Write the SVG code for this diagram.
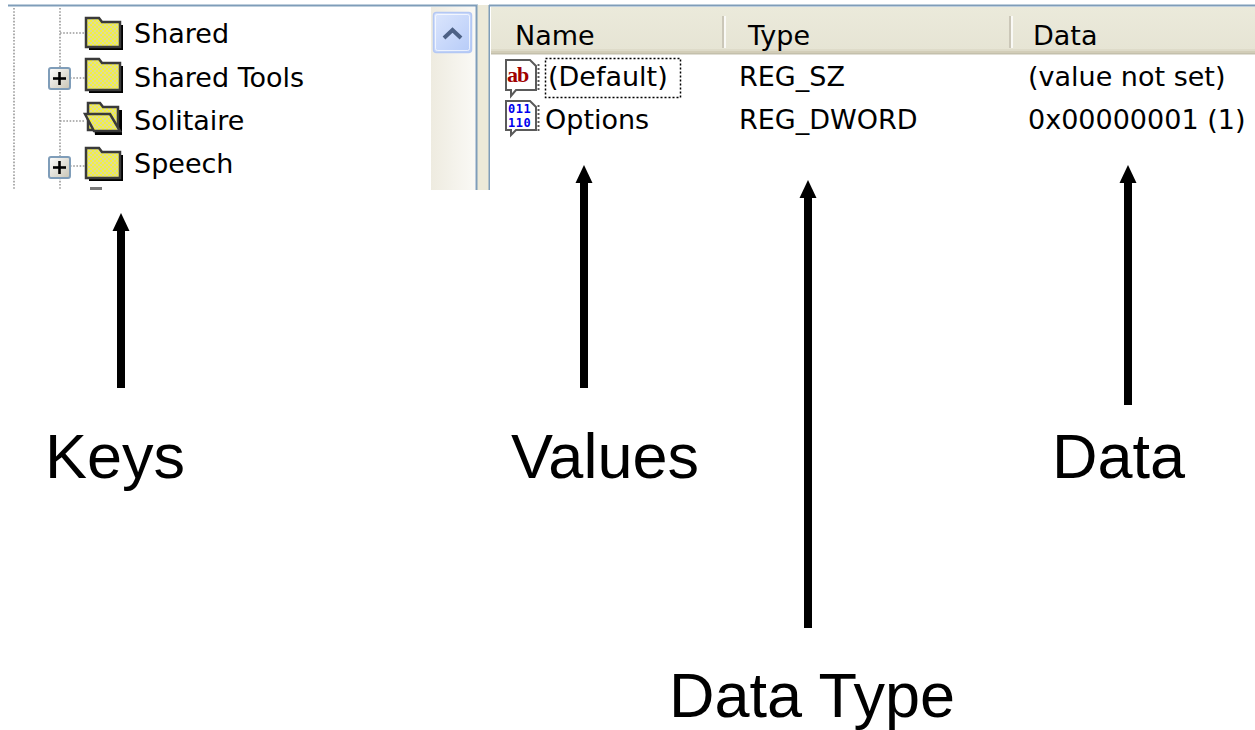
<svg xmlns="http://www.w3.org/2000/svg" width="1255" height="730" viewBox="0 0 1255 730">
  <style>
    .ui { font-family: "DejaVu Sans", Verdana, sans-serif; font-size: 27px; fill: #000; }
    .lbl { font-family: "Liberation Sans", Arial, sans-serif; font-size: 63px; fill: #000; }
    .dot { stroke: #9a9a9a; stroke-width: 1.6; stroke-dasharray: 1.6 1.6; fill: none; }
    .border { stroke: #7f9db9; stroke-width: 2; fill: none; }
    .folder { fill: url(#dither); stroke: #3a3a3a; stroke-width: 2.5; }
    .shadow { fill: #000; }
    .plusbox { fill: url(#plusGrad); stroke: #7f9db9; stroke-width: 2; }
    .plus { stroke: #000; stroke-width: 2.6; }
    .sep { stroke: #cbc7b8; stroke-width: 2; }
    .sepw { stroke: #ffffff; stroke-width: 1.5; }
    .doc { fill: #fff; stroke: #5a5a5a; stroke-width: 2; }
    .bits { font-family: "DejaVu Sans Mono", monospace; font-weight: bold; font-size: 12px; fill: #0000ee; letter-spacing: 0.5px; }
    .arrow { stroke: #000; stroke-width: 8; fill: none; }
  </style>
  <defs>
    <pattern id="dither" width="4" height="4" patternUnits="userSpaceOnUse">
      <rect width="4" height="4" fill="#f4f040"/>
      <rect x="0" y="0" width="2" height="2" fill="#dcdc9c"/>
      <rect x="2" y="2" width="2" height="2" fill="#dcdc9c"/>
    </pattern>
    <linearGradient id="plusGrad" x1="0" y1="0" x2="1" y2="1">
      <stop offset="0" stop-color="#ffffff"/>
      <stop offset="1" stop-color="#c8c4b4"/>
    </linearGradient>
    <linearGradient id="btnGrad" x1="0" y1="0" x2="1" y2="1">
      <stop offset="0" stop-color="#dce6fd"/>
      <stop offset="1" stop-color="#b6cbf8"/>
    </linearGradient>
    <linearGradient id="trackGrad" x1="0" y1="0" x2="1" y2="0">
      <stop offset="0" stop-color="#eeebe0"/>
      <stop offset="1" stop-color="#faf9f5"/>
    </linearGradient>
    <linearGradient id="hdrGrad" x1="0" y1="0" x2="0" y2="1">
      <stop offset="0" stop-color="#ebeadb"/>
      <stop offset="1" stop-color="#e6e4d4"/>
    </linearGradient>
    <marker id="head" viewBox="0 -9 18 18" refX="0" refY="0" markerWidth="18" markerHeight="18" markerUnits="userSpaceOnUse" orient="auto">
      <path d="M0,-8.5 L18,0 L0,8.5 Z" fill="#000"/>
    </marker>
  </defs>

  <rect x="0" y="0" width="1255" height="730" fill="#ffffff"/>

  <!-- Left pane (registry key tree) -->
  <g id="tree-pane">
    <rect x="8" y="6" width="469" height="184" fill="#ffffff"/>
    <line class="border" x1="8" y1="5.5" x2="478" y2="5.5"/>
    <line class="dot" x1="14" y1="8" x2="14" y2="190"/>
    <line class="dot" x1="60" y1="8" x2="60" y2="190"/>
    <line class="dot" x1="60" y1="33" x2="85" y2="33"/>
    <line class="dot" x1="70" y1="78" x2="85" y2="78"/>
    <line class="dot" x1="60" y1="121" x2="85" y2="121"/>
    <line class="dot" x1="70" y1="166" x2="85" y2="166"/>
  </g>

  <g id="key-shared">
    <path class="shadow" d="M89,25 H123 V50 H89 Z"/>
    <path class="folder" d="M86,18 H99 L102,22 H120 V47 H86 Z"/>
    <text class="ui" x="134" y="43">Shared</text>
  </g>

  <g id="key-shared-tools">
    <rect class="plusbox" x="49" y="68" width="21" height="21" rx="2"/>
    <line class="plus" x1="53" y1="78.5" x2="66" y2="78.5"/>
    <line class="plus" x1="59.5" y1="72" x2="59.5" y2="85"/>
    <path class="shadow" d="M89,66 H123 V93 H89 Z"/>
    <path class="folder" d="M86,59 H99 L102,63 H120 V90 H86 Z"/>
    <text class="ui" x="134" y="87">Shared Tools</text>
  </g>

  <g id="key-solitaire">
    <path class="shadow" d="M92,110 H122 V135 H95 Z"/>
    <path class="folder" d="M88,103 H100 L103,107 H118 V130 H88 Z"/>
    <path class="folder" d="M85,114 H110 L120,131 H94 Z"/>
    <text class="ui" x="134" y="130">Solitaire</text>
  </g>

  <g id="key-speech">
    <rect class="plusbox" x="49" y="157" width="21" height="21" rx="2"/>
    <line class="plus" x1="53" y1="167.5" x2="66" y2="167.5"/>
    <line class="plus" x1="59.5" y1="161" x2="59.5" y2="174"/>
    <path class="shadow" d="M89,155 H123 V181 H89 Z"/>
    <path class="folder" d="M86,148 H99 L102,152 H120 V178 H86 Z"/>
    <text class="ui" x="134" y="173">Speech</text>
    <rect x="90" y="187" width="12" height="3" fill="#7a7a7a"/>
  </g>

  <!-- Scrollbar -->
  <g id="scrollbar">
    <rect x="431" y="7" width="44" height="183" fill="url(#trackGrad)"/>
    <rect x="433.5" y="12.5" width="38" height="40" rx="3" fill="url(#btnGrad)" stroke="#b4c8f4" stroke-width="1.5"/>
    <rect x="435.5" y="14.5" width="34" height="36" rx="2" fill="none" stroke="#ffffff" stroke-width="1" opacity="0.7"/>
    <polyline points="444,38 452.5,30 461,38" fill="none" stroke="#4d6185" stroke-width="4"/>
  </g>

  <!-- Splitter -->
  <g id="splitter">
    <rect x="477" y="5" width="12" height="185" fill="#ece9d8"/>
    <line class="border" x1="476.5" y1="5" x2="476.5" y2="190"/>
    <line class="border" x1="489.5" y1="5" x2="489.5" y2="190"/>
  </g>

  <!-- Right pane (values list) -->
  <g id="list-pane">
    <rect x="490" y="6" width="765" height="184" fill="#ffffff"/>
    <line class="border" x1="489" y1="5.5" x2="1255" y2="5.5"/>
    <rect x="491" y="7" width="764" height="44" fill="url(#hdrGrad)"/>
    <rect x="491" y="49" width="764" height="2" fill="#dedbc9"/>
    <rect x="491" y="51" width="764" height="2" fill="#d2cdb8"/>
    <rect x="491" y="53" width="764" height="1.5" fill="#c4c0ac"/>
    <line class="sep" x1="723" y1="16" x2="723" y2="48"/>
    <line class="sepw" x1="725" y1="16" x2="725" y2="48"/>
    <line class="sep" x1="1010" y1="16" x2="1010" y2="48"/>
    <line class="sepw" x1="1012" y1="16" x2="1012" y2="48"/>
  </g>

  <g id="col-name"><text class="ui" x="515" y="45">Name</text></g>
  <g id="col-type"><text class="ui" x="748" y="45">Type</text></g>
  <g id="col-data"><text class="ui" x="1033" y="45">Data</text></g>

  <g id="value-default">
    <path class="doc" d="M506,60 H530 L536,66 V90 H516 L511,96 V90 H506 Z"/>
    <line x1="538.5" y1="64" x2="538.5" y2="92" stroke="#5a5a5a" stroke-width="2" stroke-dasharray="2 2"/>
    <text x="507" y="82" font-family="Liberation Serif, serif" font-weight="bold" font-size="22" fill="#a00000" letter-spacing="-1">ab</text>
    <rect x="545.5" y="58.5" width="135" height="39" fill="none" stroke="#000" stroke-width="1.5" stroke-dasharray="2 2"/>
    <text class="ui" x="548" y="86">(Default)</text>
    <text class="ui" x="739" y="86">REG_SZ</text>
    <text class="ui" x="1028" y="86">(value not set)</text>
  </g>

  <g id="value-options">
    <path class="doc" d="M506,101 H530 L536,107 V130 H516 L511,135 V130 H506 Z"/>
    <line x1="538.5" y1="105" x2="538.5" y2="131" stroke="#5a5a5a" stroke-width="2" stroke-dasharray="2 2"/>
    <text class="bits" x="508" y="112.5">011</text>
    <text class="bits" x="508" y="127">110</text>
    <text class="ui" x="545" y="129">Options</text>
    <text class="ui" x="739" y="129">REG_DWORD</text>
    <text class="ui" x="1028" y="129">0x00000001 (1)</text>
  </g>

  <!-- Connectors -->
  <g id="connectors">
    <line class="arrow" x1="121" y1="388" x2="121" y2="231" marker-end="url(#head)"/>
    <line class="arrow" x1="584" y1="388" x2="584" y2="183" marker-end="url(#head)"/>
    <line class="arrow" x1="808" y1="628" x2="808" y2="198" marker-end="url(#head)"/>
    <line class="arrow" x1="1128" y1="405" x2="1128" y2="183" marker-end="url(#head)"/>
  </g>

  <!-- Labels -->
  <g id="label-keys"><text class="lbl" x="45" y="478">Keys</text></g>
  <g id="label-values"><text class="lbl" x="511" y="478">Values</text></g>
  <g id="label-data"><text class="lbl" x="1052" y="478">Data</text></g>
  <g id="label-datatype"><text class="lbl" x="669" y="717">Data Type</text></g>
</svg>
